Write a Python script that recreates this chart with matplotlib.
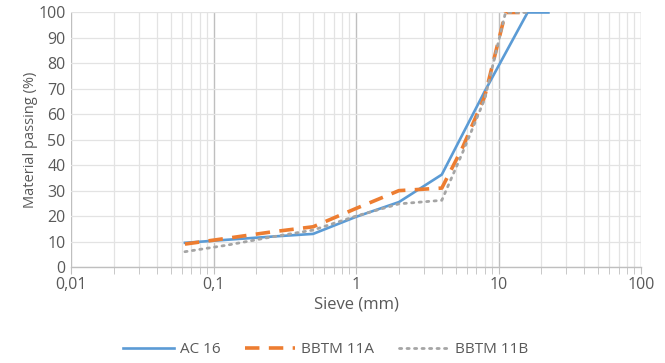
import matplotlib
matplotlib.use("Agg")
import matplotlib.pyplot as plt
from matplotlib.ticker import FixedLocator, LogLocator, NullFormatter

plt.rcParams['font.family'] = ['Open Sans', 'DejaVu Sans']

# Data
sieve_ac16 = [0.063, 0.125, 0.25, 0.5, 1, 2, 4, 8, 16, 22.4]
pass_ac16 = [9.5, 10.7, 11.9, 13, 19.7, 25.5, 36.3, 69, 100, 100]

sieve_a = [0.063, 0.125, 0.25, 0.5, 1, 2, 4, 5.6, 8, 11.2, 16]
pass_a = [9.0, 11.3, 13.7, 15.8, 23, 30, 31, 47, 67, 100, 100]

sieve_b = [0.063, 0.125, 0.25, 0.5, 1, 2, 4, 5.6, 8, 11.2, 16]
pass_b = [6.0, 8.6, 11.7, 14.5, 20, 24.8, 26.2, 45, 66, 100, 100]

xtick_vals = [0.01, 0.1, 1, 10, 100]
xtick_labels = ["0,01", "0,1", "1", "10", "100"]
ytick_vals = list(range(0, 101, 10))

txt = '#595959'
fig = plt.figure(figsize=(6.65, 3.63), dpi=100)
ax = fig.add_axes([0.1068, 0.2645, 0.8571, 0.7011])

ax.plot(sieve_ac16, pass_ac16, color='#5B9BD5', lw=1.9, label='AC 16', solid_joinstyle='round', zorder=3)
ax.plot(sieve_a, pass_a, color='#ED7D31', lw=2.6, dashes=(4, 2.6), label='BBTM 11A', zorder=4)
ax.plot(sieve_b, pass_b, color='#A5A5A5', lw=2.0, dashes=(0.8, 1.9), dash_capstyle='round', label='BBTM 11B', zorder=5)

ax.set_xscale('log')
ax.set_xlim(0.01, 100)
ax.set_ylim(0, 100)
ax.xaxis.set_major_locator(FixedLocator(xtick_vals))
ax.set_xticklabels(xtick_labels)
ax.xaxis.set_minor_locator(LogLocator(base=10, subs=range(2, 10)))
ax.xaxis.set_minor_formatter(NullFormatter())
ax.set_yticks(ytick_vals)

ax.grid(which='major', axis='x', color='#BFBFBF', lw=1.0)
ax.grid(which='minor', axis='x', color='#E3E3E3', lw=0.9)
ax.grid(which='major', axis='y', color='#E3E3E3', lw=0.9)
ax.set_axisbelow(True)

for s in ['top', 'right', 'left']:
    ax.spines[s].set_visible(False)
ax.spines['bottom'].set_color('#BFBFBF')
ax.spines['bottom'].set_linewidth(1.0)

ax.tick_params(axis='x', which='major', length=5, color='#BFBFBF', labelsize=11.5, labelcolor=txt, pad=2)
ax.tick_params(axis='x', which='minor', length=5, color='#BFBFBF')
ax.tick_params(axis='y', length=0, labelsize=11.5, labelcolor=txt, pad=4)

ax.set_xlabel('Sieve (mm)', fontsize=12, color=txt, labelpad=3)
ax.set_ylabel('Material passing (%)', fontsize=10.5, color=txt, labelpad=0)

leg = fig.legend(loc='center', bbox_to_anchor=(0.49, 0.036), ncol=3, frameon=False,
                 fontsize=11, handlelength=3.3, columnspacing=1.6, handletextpad=0.4,
                 borderpad=0, borderaxespad=0)
for t in leg.get_texts():
    t.set_color(txt)

fig.savefig('out.png', dpi=100)
